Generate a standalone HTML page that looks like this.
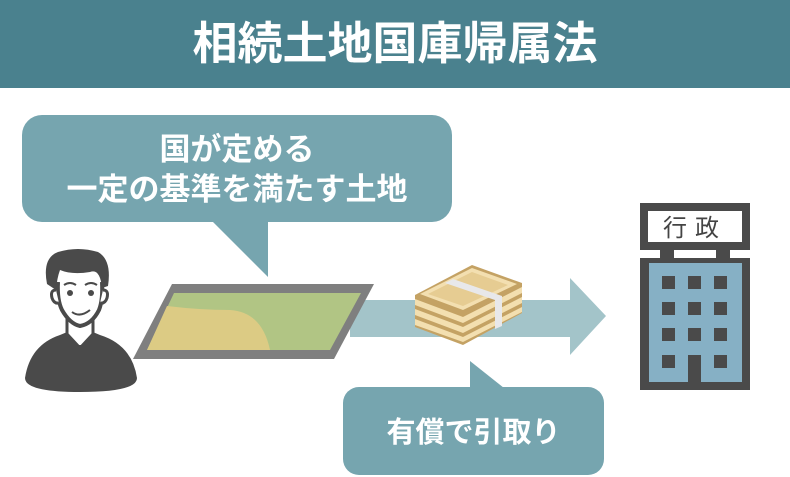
<!DOCTYPE html>
<html><head><meta charset="utf-8"><style>
html,body{margin:0;padding:0;background:#fff;}
body{width:790px;height:477px;overflow:hidden;position:relative;font-family:"Liberation Sans","Noto Sans CJK JP",sans-serif;}
.hdr{position:absolute;left:0;top:0;width:790px;height:88px;background:#4a818e;}
.t{position:absolute;left:0;width:790px;text-align:center;color:#fff;font-weight:bold;white-space:nowrap;}
</style></head><body>
<div class="hdr"></div>
<svg width="790" height="477" style="position:absolute;left:0;top:0">
<rect x="22" y="115" width="430" height="107" rx="20" fill="#76a5af"/>
<polygon points="212,221 268,221 268,277" fill="#76a5af"/>
<polygon points="350,300 570,300 570,278 606,316 570,355 570,337 350,337" fill="#a3c4c9"/>
<polygon points="172,284 374,284 334,359 133,359" fill="#7f7f7f"/>
<polygon points="174,293 361,293 330,350 147,350" fill="#b1c584"/>
<path d="M167,306 Q200,310 230,310 Q262,312 270,350 L147,350 Z" fill="#dccb84"/>
<rect x="343" y="387" width="261" height="88" rx="16" fill="#76a5af"/>
<polygon points="470,361 470,388 504,388" fill="#76a5af"/>
<polygon points="415,295 472,265 522,283 522,313 463,345 415,327" fill="#c4a264"/>
<polygon points="415,299 463,317 463,323 415,305" fill="#f3dfb0"/>
<polygon points="415,309 463,327 463,333 415,315" fill="#f3dfb0"/>
<polygon points="415,319 463,337 463,342 415,325" fill="#f3dfb0"/>
<polygon points="463,317 522,287 522,293 463,323" fill="#f3dfb0"/>
<polygon points="463,327 522,297 522,303 463,333" fill="#f3dfb0"/>
<polygon points="463,337 522,307 522,312 463,342" fill="#f3dfb0"/>
<polygon points="420,294 472,268 517,284 463,310" fill="#f3dfb0"/>
<polygon points="428,294 472,272 508,285 463,306" fill="#e6cc92"/>
<polygon points="445,283 453,279 502,296 502,326 495,329 495,300" fill="#e8e8ea"/>
<rect x="640" y="203" width="110" height="47" fill="#4a4a4a"/>
<rect x="648" y="211" width="94" height="31" fill="#fff"/>
<rect x="660" y="250" width="14" height="9" fill="#4a4a4a"/>
<rect x="716" y="250" width="14" height="9" fill="#4a4a4a"/>
<rect x="640" y="258" width="110" height="132" fill="#4a4a4a"/>
<rect x="649" y="263" width="93" height="119" fill="#86b0c5"/>
<g fill="#4a4a4a">
<rect x="662" y="276" width="13" height="13"/><rect x="688" y="276" width="13" height="13"/><rect x="714" y="276" width="13" height="13"/>
<rect x="662" y="302" width="13" height="13"/><rect x="688" y="302" width="13" height="13"/><rect x="714" y="302" width="13" height="13"/>
<rect x="662" y="328" width="13" height="13"/><rect x="688" y="328" width="13" height="13"/><rect x="714" y="328" width="13" height="13"/>
<rect x="662" y="355" width="13" height="13"/><rect x="688" y="355" width="13" height="30"/><rect x="714" y="355" width="13" height="13"/>
</g>
<text x="695" y="236" font-size="24" font-family="Noto Sans CJK JP, sans-serif" fill="#444" text-anchor="middle" letter-spacing="8">行政</text>
<!-- person -->
<path d="M25,378 Q30,345 60,335 L72,330 L88,330 L100,335 Q132,345 137,378 Q137,392 80,392 Q25,392 25,378 Z" fill="#4a4a4a"/>
<path d="M67,318 L67,334 L80,348 L93,334 L93,318 Z" fill="#fff" stroke="#4a4a4a" stroke-width="3"/>
<polygon points="77,345 83,345 86,372 80,378 74,372" fill="#4a4a4a"/>
<path d="M58,282 Q57,300 62,310 Q70,324 80,326 Q92,324 99,310 Q103,300 102,282" fill="#fff" stroke="#4a4a4a" stroke-width="4"/>
<path d="M47,284 Q42,258 58,252 Q78,246 98,252 Q112,260 108,286 L102,288 Q100,268 90,272 Q72,275 60,270 Q57,278 56,290 Z" fill="#4a4a4a"/>
<path d="M56,290 Q50,290 52,298 Q54,304 59,303 M103,290 Q109,290 107,298 Q105,304 100,303" fill="#fff" stroke="#4a4a4a" stroke-width="3"/>
<circle cx="70" cy="293" r="3" fill="#4a4a4a"/><circle cx="91" cy="293" r="3" fill="#4a4a4a"/>
<path d="M64,285 Q70,281 76,285 M85,285 Q91,281 97,285" stroke="#4a4a4a" stroke-width="2" fill="none"/>
<path d="M72,312 Q80,318 90,310" stroke="#4a4a4a" stroke-width="2" fill="none"/>
</svg>
<div class="t" style="top:17px;font-size:45px;line-height:54px;">相続土地国庫帰属法</div>
<div class="t" style="left:22px;width:430px;top:130px;font-size:31px;line-height:40px;">国が定める<br>一定の基準を満たす土地</div>
<div class="t" style="left:343px;width:261px;top:413px;font-size:29px;line-height:40px;">有償で引取り</div>
</body></html>
